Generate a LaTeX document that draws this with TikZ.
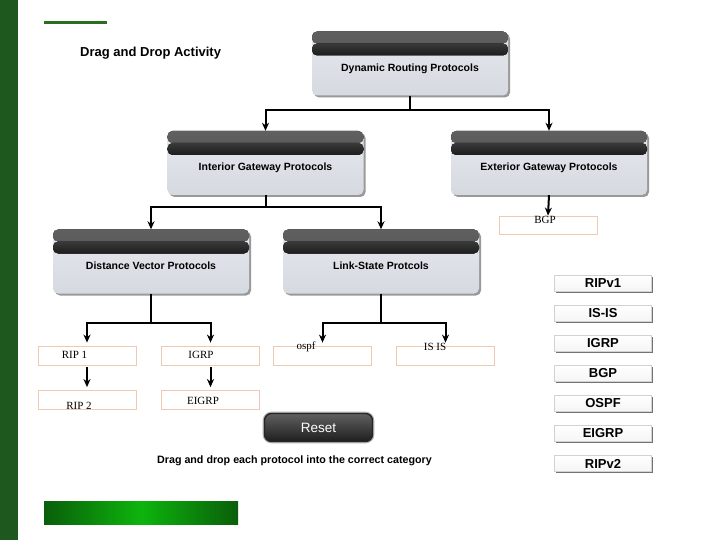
\documentclass[tikz,border=0pt]{standalone}
\usepackage{fontspec}
\setmainfont{Liberation Serif}
\setsansfont{Liberation Sans}
\usetikzlibrary{arrows.meta,shadows}
\definecolor{hdtop}{HTML}{606060}
\definecolor{hdmid}{HTML}{4A4A4A}
\definecolor{hdlow}{HTML}{3A3A3A}
\definecolor{hdbot}{HTML}{1C1C1C}
\definecolor{bodytop}{HTML}{E6E9EE}
\definecolor{bodybot}{HTML}{D5D9E0}
\definecolor{dropc}{HTML}{F0C9B2}
\definecolor{stripc}{HTML}{1E581E}
\definecolor{linec}{HTML}{2A6E1E}
\definecolor{bardark}{HTML}{0A5E0A}
\definecolor{barlight}{HTML}{0DB40D}
\newcommand\catlbl[1]{\raisebox{-8pt}[0pt][0pt]{#1}}
\begin{document}
\begin{tikzpicture}[x=1pt,y=-1pt,
  cat/.style={rectangle, minimum width=196pt, minimum height=64pt, inner sep=0pt,
    rounded corners=5pt, top color=bodytop, bottom color=bodybot,
    drop shadow={shadow xshift=2pt,shadow yshift=-2pt,opacity=0.4,fill=black},
    font=\sffamily\bfseries\fontsize{10.5}{12}\selectfont,
    path picture={
      \fill[top color=hdtop,bottom color=hdmid]
        (path picture bounding box.north west) rectangle
        ([yshift=-12pt]path picture bounding box.north east);
      \fill[top color=hdlow,bottom color=hdbot]
        ([yshift=-12pt]path picture bounding box.north west) rectangle
        ([yshift=-24pt]path picture bounding box.north east);}},
  drop/.style={rectangle, minimum width=98pt, minimum height=19pt, inner sep=0pt,
    draw=dropc, line width=0.8pt, fill=white},
  droptxt/.style={inner sep=0pt, font=\fontsize{11}{12}\selectfont},
  pal/.style={rectangle, minimum width=97pt, minimum height=16pt, inner sep=0pt,
    top color=white, bottom color=gray!8, draw=gray!35, line width=0.4pt,
    drop shadow={shadow xshift=1pt,shadow yshift=-1.6pt,opacity=0.55,fill=black},
    font=\sffamily\bfseries\fontsize{13}{14}\selectfont},
  conn/.style={line width=2pt, -{Stealth[length=8pt,width=7pt,inset=2.5pt]}},
  resetbtn/.style={rectangle, rounded corners=7pt, minimum width=108pt, minimum height=28pt,
    top color=gray!75!black, bottom color=black!88,
    preaction={draw=gray!60,line width=3.6pt},
    draw=black!85, line width=1.4pt, text=white,
    font=\sffamily\fontsize{13.5}{15}\selectfont}
]
\useasboundingbox (0,0) rectangle (720,540);
\fill[white] (0,0) rectangle (720,540);
% left strip and decorations
\fill[stripc] (0,0) rectangle (18,540);
\draw[linec, line width=3pt] (44,22.5) -- (107,22.5);
\shade[left color=bardark, right color=bardark, middle color=barlight]
  (44,501) rectangle (238,524);
\node[anchor=west, inner sep=0pt, font=\sffamily\bfseries\fontsize{13}{15}\selectfont]
  (title) at (80,53) {Drag and Drop Activity};

% category boxes
\node[cat] (drp) at (410,63.5) {\catlbl{Dynamic Routing Protocols}};
\node[cat] (igp) at (265.5,163) {\catlbl{Interior Gateway Protocols}};
\node[cat] (egp) at (549,163) {\catlbl{Exterior Gateway Protocols}};
\node[cat] (dv) at (151,261.5) {\catlbl{Distance Vector Protocols}};
\node[cat] (ls) at (381,261.5) {\catlbl{Link-State Protcols}};

% drop boxes
\node[drop, minimum height=18pt] (bgp) at (548,225) {};
\node[drop] (rip1) at (87,355.5) {};
\node[drop] (igrp) at (210.5,355.5) {};
\node[drop] (ospf) at (322.5,355.5) {};
\node[drop] (isis) at (445.5,355.5) {};
\node[drop] (rip2) at (87,400) {};
\node[drop] (eigrp) at (210.5,400) {};

% connectors
\draw[conn] (drp.south) -- ++(0,14) -| (igp.north);
\draw[conn] (drp.south) -- ++(0,14) -| (egp.north);
\draw[conn] (igp.south) -- ++(0,12) -| (dv.north);
\draw[conn] (igp.south) -- ++(0,12) -| (ls.north);
\draw[conn] (egp.south) -- (bgp.north);
\draw[conn, shorten >=3pt] (dv.south) -- ++(0,29) -| (rip1.north);
\draw[conn, shorten >=3pt] (dv.south) -- ++(0,29) -| (igrp.north);
\draw[conn, shorten >=3pt] (ls.south) -- ++(0,29) -| (ospf.north);
\draw[conn, shorten >=3pt] (ls.south) -- ++(0,29) -| (isis.north);
\draw[conn, shorten <=2pt, shorten >=3pt] (rip1.south) -- (rip2.north);
\draw[conn, shorten <=2pt, shorten >=3pt] (igrp.south) -- (eigrp.north);

% texts in drop boxes
\node[droptxt] (tbgp) at (545,220) {BGP};
\node[droptxt] (trip1) at (74.5,355) {RIP 1};
\node[droptxt] (tigrp) at (201,355) {IGRP};
\node[droptxt] (tospf) at (306,347) {ospf};
\node[droptxt] (tisis) at (435,347) {IS IS};
\node[droptxt] (trip2) at (79,406) {RIP 2};
\node[droptxt] (teigrp) at (203,401) {EIGRP};

% palette
\node[pal] (p1) at (603,283.5) {RIPv1};
\node[pal] (p2) at (603,313.5) {IS-IS};
\node[pal] (p3) at (603,343.5) {IGRP};
\node[pal] (p4) at (603,373.5) {BGP};
\node[pal] (p5) at (603,403.5) {OSPF};
\node[pal] (p6) at (603,433.5) {EIGRP};
\node[pal] (p7) at (603,463.5) {RIPv2};

% reset and instruction
\node[resetbtn] (reset) at (318.5,427.5) {Reset};
\node[inner sep=0pt, font=\sffamily\bfseries\fontsize{10.7}{12}\selectfont]
  (instr) at (294.5,460.5) {Drag and drop each protocol into the correct category};
\end{tikzpicture}
\end{document}
